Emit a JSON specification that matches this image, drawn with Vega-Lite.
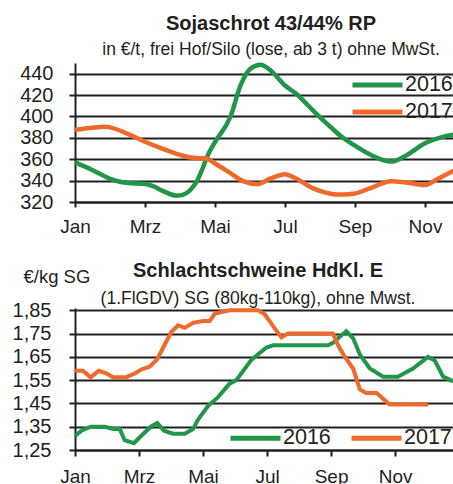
{
  "$schema": "https://vega.github.io/schema/vega-lite/v6.json",
  "background": "white",
  "padding": {"left": 12, "top": 14, "right": 0, "bottom": 0},
  "spacing": 24,
  "resolve": {"scale": {"x": "independent", "y": "independent", "color": "independent"}, "legend": {"color": "independent"}},
  "config": {
    "font": "Liberation Sans, Arial, sans-serif",
    "view": {"stroke": null},
    "axis": {"labelColor": "#231f20", "tickColor": "#231f20", "domainColor": "#231f20", "gridColor": "#231f20", "labelFontSize": 20, "tickWidth": 2, "domainWidth": 2, "labelOverlap": false, "labelFlush": false},
    "title": {"fontSize": 20, "fontWeight": "bold", "color": "#231f20", "subtitleFontSize": 17.5, "subtitleColor": "#231f20", "subtitlePadding": 7, "offset": -3},
    "legend": {"labelColor": "#231f20", "labelFontSize": 21.5, "symbolType": "M-3,0H1", "symbolSize": 625, "symbolStrokeWidth": 5, "title": null, "padding": 0, "labelOffset": 0}
  },
  "datasets": {
    "soja": [
      {"month": 1.0, "value": 357, "year": "2016"},
      {"month": 1.49, "value": 350, "year": "2016"},
      {"month": 2.0, "value": 341.7, "year": "2016"},
      {"month": 2.5, "value": 337.7, "year": "2016"},
      {"month": 3.0, "value": 336.8, "year": "2016"},
      {"month": 3.25, "value": 334.6, "year": "2016"},
      {"month": 3.49, "value": 330.6, "year": "2016"},
      {"month": 3.9, "value": 326, "year": "2016"},
      {"month": 4.0, "value": 326.2, "year": "2016"},
      {"month": 4.3, "value": 331.5, "year": "2016"},
      {"month": 4.49, "value": 340, "year": "2016"},
      {"month": 4.63, "value": 350, "year": "2016"},
      {"month": 4.77, "value": 362, "year": "2016"},
      {"month": 5.0, "value": 376, "year": "2016"},
      {"month": 5.44, "value": 399.7, "year": "2016"},
      {"month": 5.73, "value": 429, "year": "2016"},
      {"month": 6.01, "value": 444.6, "year": "2016"},
      {"month": 6.3, "value": 448.4, "year": "2016"},
      {"month": 6.59, "value": 443, "year": "2016"},
      {"month": 7.0, "value": 429, "year": "2016"},
      {"month": 7.31, "value": 421.4, "year": "2016"},
      {"month": 7.79, "value": 406, "year": "2016"},
      {"month": 8.14, "value": 395, "year": "2016"},
      {"month": 8.34, "value": 389, "year": "2016"},
      {"month": 8.62, "value": 381, "year": "2016"},
      {"month": 9.0, "value": 372.7, "year": "2016"},
      {"month": 9.46, "value": 364, "year": "2016"},
      {"month": 10.03, "value": 357.8, "year": "2016"},
      {"month": 10.41, "value": 362.5, "year": "2016"},
      {"month": 11.0, "value": 375, "year": "2016"},
      {"month": 11.46, "value": 380.5, "year": "2016"},
      {"month": 12.0, "value": 384, "year": "2016"},
      {"month": 1.0, "value": 387.5, "year": "2017"},
      {"month": 1.49, "value": 389.5, "year": "2017"},
      {"month": 1.87, "value": 390.4, "year": "2017"},
      {"month": 2.0, "value": 389.8, "year": "2017"},
      {"month": 2.49, "value": 384, "year": "2017"},
      {"month": 3.0, "value": 376.4, "year": "2017"},
      {"month": 3.49, "value": 370, "year": "2017"},
      {"month": 4.0, "value": 364, "year": "2017"},
      {"month": 4.3, "value": 361.6, "year": "2017"},
      {"month": 4.63, "value": 361, "year": "2017"},
      {"month": 4.77, "value": 360.5, "year": "2017"},
      {"month": 5.0, "value": 356, "year": "2017"},
      {"month": 5.44, "value": 347, "year": "2017"},
      {"month": 5.82, "value": 339.3, "year": "2017"},
      {"month": 6.2, "value": 336.8, "year": "2017"},
      {"month": 6.59, "value": 342, "year": "2017"},
      {"month": 7.0, "value": 346, "year": "2017"},
      {"month": 7.31, "value": 342, "year": "2017"},
      {"month": 7.79, "value": 333, "year": "2017"},
      {"month": 8.14, "value": 329, "year": "2017"},
      {"month": 8.34, "value": 327.5, "year": "2017"},
      {"month": 8.62, "value": 327, "year": "2017"},
      {"month": 9.0, "value": 328, "year": "2017"},
      {"month": 9.46, "value": 333.2, "year": "2017"},
      {"month": 10.03, "value": 339.4, "year": "2017"},
      {"month": 10.41, "value": 338.5, "year": "2017"},
      {"month": 11.0, "value": 336, "year": "2017"},
      {"month": 11.36, "value": 341.6, "year": "2017"},
      {"month": 12.0, "value": 352.5, "year": "2017"}
    ],
    "schwein": [
      {"month": 1.0, "value": 1.31, "year": "2016"},
      {"month": 1.2, "value": 1.333, "year": "2016"},
      {"month": 1.49, "value": 1.35, "year": "2016"},
      {"month": 1.93, "value": 1.35, "year": "2016"},
      {"month": 2.19, "value": 1.34, "year": "2016"},
      {"month": 2.4, "value": 1.34, "year": "2016"},
      {"month": 2.55, "value": 1.292, "year": "2016"},
      {"month": 2.84, "value": 1.279, "year": "2016"},
      {"month": 3.07, "value": 1.311, "year": "2016"},
      {"month": 3.37, "value": 1.35, "year": "2016"},
      {"month": 3.57, "value": 1.366, "year": "2016"},
      {"month": 3.78, "value": 1.333, "year": "2016"},
      {"month": 4.06, "value": 1.32, "year": "2016"},
      {"month": 4.43, "value": 1.32, "year": "2016"},
      {"month": 4.69, "value": 1.34, "year": "2016"},
      {"month": 4.84, "value": 1.38, "year": "2016"},
      {"month": 5.16, "value": 1.44, "year": "2016"},
      {"month": 5.47, "value": 1.477, "year": "2016"},
      {"month": 5.83, "value": 1.535, "year": "2016"},
      {"month": 6.04, "value": 1.55, "year": "2016"},
      {"month": 6.51, "value": 1.637, "year": "2016"},
      {"month": 6.98, "value": 1.69, "year": "2016"},
      {"month": 7.19, "value": 1.7, "year": "2016"},
      {"month": 8.9, "value": 1.7, "year": "2016"},
      {"month": 9.06, "value": 1.71, "year": "2016"},
      {"month": 9.22, "value": 1.73, "year": "2016"},
      {"month": 9.48, "value": 1.76, "year": "2016"},
      {"month": 9.69, "value": 1.73, "year": "2016"},
      {"month": 9.9, "value": 1.66, "year": "2016"},
      {"month": 10.21, "value": 1.6, "year": "2016"},
      {"month": 10.63, "value": 1.565, "year": "2016"},
      {"month": 11.09, "value": 1.565, "year": "2016"},
      {"month": 11.56, "value": 1.6, "year": "2016"},
      {"month": 12.03, "value": 1.65, "year": "2016"},
      {"month": 12.24, "value": 1.635, "year": "2016"},
      {"month": 12.5, "value": 1.565, "year": "2016"},
      {"month": 12.81, "value": 1.545, "year": "2016"},
      {"month": 1.0, "value": 1.59, "year": "2017"},
      {"month": 1.25, "value": 1.59, "year": "2017"},
      {"month": 1.49, "value": 1.562, "year": "2017"},
      {"month": 1.74, "value": 1.59, "year": "2017"},
      {"month": 1.98, "value": 1.579, "year": "2017"},
      {"month": 2.19, "value": 1.563, "year": "2017"},
      {"month": 2.6, "value": 1.563, "year": "2017"},
      {"month": 2.87, "value": 1.579, "year": "2017"},
      {"month": 3.07, "value": 1.596, "year": "2017"},
      {"month": 3.33, "value": 1.608, "year": "2017"},
      {"month": 3.57, "value": 1.64, "year": "2017"},
      {"month": 3.8, "value": 1.702, "year": "2017"},
      {"month": 4.01, "value": 1.757, "year": "2017"},
      {"month": 4.22, "value": 1.786, "year": "2017"},
      {"month": 4.43, "value": 1.775, "year": "2017"},
      {"month": 4.69, "value": 1.796, "year": "2017"},
      {"month": 5.0, "value": 1.804, "year": "2017"},
      {"month": 5.21, "value": 1.804, "year": "2017"},
      {"month": 5.37, "value": 1.836, "year": "2017"},
      {"month": 5.83, "value": 1.85, "year": "2017"},
      {"month": 6.72, "value": 1.85, "year": "2017"},
      {"month": 6.93, "value": 1.833, "year": "2017"},
      {"month": 7.19, "value": 1.782, "year": "2017"},
      {"month": 7.45, "value": 1.734, "year": "2017"},
      {"month": 7.66, "value": 1.75, "year": "2017"},
      {"month": 9.06, "value": 1.75, "year": "2017"},
      {"month": 9.22, "value": 1.7, "year": "2017"},
      {"month": 9.43, "value": 1.65, "year": "2017"},
      {"month": 9.69, "value": 1.6, "year": "2017"},
      {"month": 9.9, "value": 1.51, "year": "2017"},
      {"month": 10.1, "value": 1.495, "year": "2017"},
      {"month": 10.42, "value": 1.495, "year": "2017"},
      {"month": 10.83, "value": 1.445, "year": "2017"},
      {"month": 12.03, "value": 1.445, "year": "2017"}
    ]
  },
  "vconcat": [
    {
      "resolve": {"scale": {"color": "independent"}, "legend": {"color": "independent"}},
      "hconcat": [
        {
          "width": 385,
          "height": 139,
          "title": {"text": "Sojaschrot 43/44% RP", "subtitle": "in €/t, frei Hof/Silo (lose, ab 3 t) ohne MwSt.", "dx": 3.5},
          "data": {"name": "soja"},
          "mark": {"type": "line", "interpolate": "monotone", "strokeWidth": 4.5},
          "encoding": {
            "x": {"field": "month", "type": "quantitative", "scale": {"domain": [1, 12], "nice": false, "zero": false},
              "axis": {"values": [1, 3, 5, 7, 9, 11], "labelExpr": "['Jan','Feb','Mrz','Apr','Mai','Jun','Jul','Aug','Sep','Okt','Nov','Dez'][datum.value - 1]", "title": null, "grid": false, "tickSize": 5, "labelPadding": 10, "labelFontSize": 19}},
            "y": {"field": "value", "type": "quantitative", "scale": {"domain": [320, 450], "nice": false, "zero": false},
              "axis": {"values": [320, 340, 360, 380, 400, 420, 440], "title": null, "gridWidth": 1.8, "tickSize": 6, "labelPadding": 16}},
            "color": {"field": "year", "type": "nominal", "scale": {"domain": ["2016", "2017"], "range": ["#21964a", "#ef6a2a"]},
              "legend": {"orient": "top-right", "direction": "vertical", "offset": 7, "rowPadding": 1}}
          }
        }
      ]
    },
    {
      "resolve": {"scale": {"color": "independent"}, "legend": {"color": "independent"}},
      "hconcat": [
        {
          "width": 378,
          "height": 142,
          "title": {"text": "Schlachtschweine HdKl. E", "subtitle": "(1.FlGDV) SG (80kg-110kg), ohne Mwst.", "dx": -6, "offset": -40, "subtitlePadding": 9},
          "data": {"name": "schwein"},
          "mark": {"type": "line", "strokeWidth": 4},
          "encoding": {
            "x": {"field": "month", "type": "quantitative", "scale": {"domain": [1, 12.81], "nice": false, "zero": false},
              "axis": {"values": [1, 3, 5, 7, 9, 11], "labelExpr": "['Jan','Feb','Mrz','Apr','Mai','Jun','Jul','Aug','Sep','Okt','Nov','Dez'][datum.value - 1]", "title": null, "grid": false, "tickSize": 6, "labelPadding": 11, "labelFontSize": 19}},
            "y": {"field": "value", "type": "quantitative", "scale": {"domain": [1.25, 1.86], "nice": false, "zero": false},
              "axis": {"values": [1.25, 1.35, 1.45, 1.55, 1.65, 1.75, 1.85], "labelExpr": "replace(format(datum.value, '.2f'), '.', ',')", "gridWidth": 1.8, "tickSize": 6, "labelPadding": 18,
                "title": "€/kg SG", "titleAngle": 0, "titleAlign": "left", "titleBaseline": "alphabetic", "titleFontSize": 18.5, "titleFontWeight": "normal", "titleColor": "#231f20", "titleX": -52, "titleY": -26}},
            "color": {"field": "year", "type": "nominal", "scale": {"domain": ["2016", "2017"], "range": ["#21964a", "#ef6a2a"]},
              "legend": {"orient": "bottom-right", "direction": "horizontal", "offset": 1, "columnPadding": 10}}
          }
        }
      ]
    }
  ]
}
